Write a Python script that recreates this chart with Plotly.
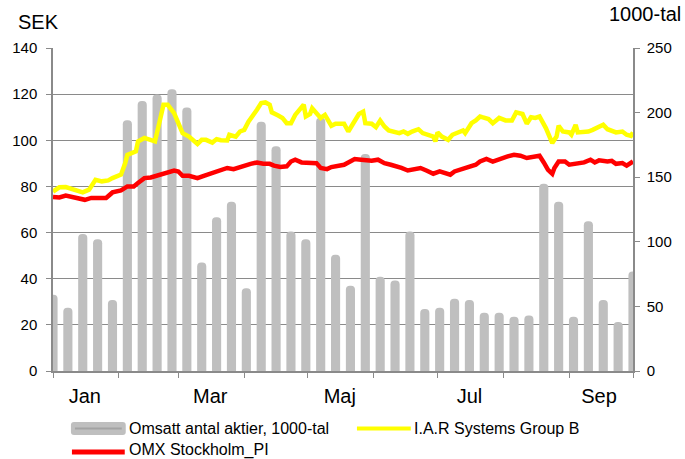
import plotly.graph_objects as go
import pandas as pd

# ---------------- data ----------------
base = pd.Timestamp("2010-01-01")

# weekly turnover (1000-tal), one bar per week starting Jan 1
volume = [59, 49, 106, 102, 55, 194, 209, 214, 218, 204,
          84, 119, 131, 64, 193, 174, 108, 102, 196, 90,
          66, 168, 73, 70, 108, 48, 49, 56, 55, 45,
          45, 42, 43, 145, 131, 42, 116, 55, 38, 77]
volume_week_no = list(range(len(volume)))

# I.A.R Systems Group B (SEK), day offsets from Jan 1
iar_day = [0, 3, 6, 9, 12, 14, 17, 20, 23, 26, 28, 32, 34, 35, 39, 40, 43, 46, 48, 50,
           52, 54, 57, 59, 61, 64, 66, 68, 70, 72, 75, 77, 79, 82, 83, 86, 88, 90, 92, 94,
           96, 98, 100, 102, 103, 106, 108, 110, 112, 114, 116, 118, 119, 121, 122, 124, 126, 128, 129, 131,
           133, 137, 139, 142, 144, 146, 147, 150, 152, 154, 156, 158, 161, 163, 165, 167, 169, 172, 174, 176,
           179, 180, 181, 183, 186, 188, 190, 193, 194, 197, 199, 201, 202, 205, 207, 210, 213, 216, 218, 221,
           223, 225, 227, 229, 232, 234, 235, 237, 238, 240, 243, 244, 246, 247, 250, 252, 254, 257, 259, 261,
           263, 265, 268, 270, 272, 273]
iar = [77.8, 79.6, 79.7, 78.9, 78.1, 77.4, 78.6, 82.9, 82.2, 82.6, 83.6, 85.1, 90.1, 93.7, 95.2, 99.5, 101.0, 100.2, 99.5, 107.4,
       115.4, 115.4, 111.8, 107.4, 103.1, 101.6, 100.2, 98.4, 100.2, 100.2, 99.0, 100.5, 100.0, 99.9, 102.4, 101.6, 103.8, 104.5, 108.1, 110.3,
       113.2, 116.1, 116.4, 115.4, 112.1, 110.7, 109.7, 107.4, 107.4, 111.0, 113.2, 115.4, 110.3, 111.4, 113.9, 112.1, 109.7, 111.0, 109.7, 106.3,
       107.2, 107.2, 103.8, 108.1, 111.4, 112.4, 107.4, 107.2, 105.7, 108.6, 106.0, 104.3, 103.4, 103.1, 103.8, 102.8, 103.8, 104.8, 103.1, 102.4,
       101.6, 99.5, 103.4, 101.6, 100.2, 102.4, 103.1, 104.3, 103.1, 107.4, 108.6, 110.3, 110.0, 109.2, 107.4, 109.7, 108.6, 108.6, 112.1, 111.4,
       107.2, 110.0, 109.7, 110.3, 105.3, 101.0, 98.8, 101.6, 106.3, 103.8, 103.4, 102.4, 106.7, 103.4, 103.4, 103.8, 104.5, 106.0, 106.7, 104.8,
       104.3, 103.4, 103.8, 102.4, 101.9, 103.4]

# OMX Stockholm_PI (rebased), day offsets from Jan 1
omx_day = [0, 3, 6, 9, 12, 15, 18, 22, 25, 28, 32, 35, 38, 40, 43, 46, 49, 52, 54, 57,
           59, 61, 64, 68, 71, 74, 77, 80, 82, 85, 87, 90, 93, 96, 99, 102, 104, 107, 110, 112,
           114, 117, 119, 121, 124, 126, 129, 131, 134, 137, 139, 142, 145, 148, 150, 153, 156, 159, 161, 164,
           167, 170, 173, 176, 179, 182, 184, 187, 189, 192, 194, 197, 199, 201, 204, 207, 211, 214, 217, 220,
           223, 226, 229, 231, 233, 235, 236, 238, 241, 243, 247, 250, 253, 255, 257, 261, 263, 265, 268, 270,
           273]
omx = [75.4, 75.2, 76.0, 75.4, 74.5, 74.2, 75.0, 75.0, 75.0, 77.4, 78.3, 80.0, 80.0, 81.5, 83.6, 83.9, 84.6, 85.5, 86.1, 86.9,
       86.5, 84.6, 84.6, 83.6, 84.6, 85.5, 86.1, 86.9, 88.0, 87.5, 88.2, 89.0, 89.8, 90.4, 89.8, 89.8, 89.0, 88.4, 88.7, 90.8,
       91.6, 90.4, 90.4, 90.1, 90.1, 88.0, 87.5, 88.4, 89.0, 89.4, 90.4, 91.9, 91.6, 91.3, 91.1, 91.6, 90.1, 89.4, 89.0, 88.0,
       86.9, 87.5, 88.0, 86.8, 85.5, 86.5, 86.1, 85.1, 86.5, 87.5, 88.0, 89.0, 89.4, 90.8, 91.9, 90.8, 92.3, 93.0, 93.7, 93.3,
       92.3, 92.7, 93.3, 90.4, 87.2, 85.5, 88.0, 90.8, 90.8, 89.4, 89.8, 90.4, 91.6, 90.4, 91.3, 90.8, 91.1, 89.8, 90.1, 89.0,
       90.8]

month_labels = ["Jan", "Mar", "Maj", "Jul", "Sep"]
month_label_dates = ["2010-01-16", "2010-03-16", "2010-05-16", "2010-07-16", "2010-09-15"]
month_starts = pd.date_range("2010-01-01", "2010-10-01", freq="MS")
left_ticks = list(range(0, 141, 20))
right_ticks = list(range(0, 251, 50))

leg_bar = "Omsatt antal aktier, 1000-tal"
leg_iar = "I.A.R Systems Group B"
leg_omx = "OMX Stockholm_PI"

# ---------------- build ----------------
week_dates = [base + pd.Timedelta(days=7 * w) for w in volume_week_no]
iar_dates = [base + pd.Timedelta(days=d) for d in iar_day]
omx_dates = [base + pd.Timedelta(days=d) for d in omx_day]
end_date = base + pd.Timedelta(days=273)

GRID = "#8a8a8a"
BAR = "#bfbfbf"
FONT = "Liberation Sans, Arial, sans-serif"

W, H = 685, 459
L, R, T, B = 51, 52, 48, 88
PW, PH = W - L - R, H - T - B

def px(x):
    return (x - L) / PW

def py(y):
    return (H - B - y) / PH

fig = go.Figure()
fig.add_trace(go.Bar(x=week_dates, y=volume, yaxis="y", name=leg_bar,
                     marker=dict(color=BAR, line=dict(width=0), cornerradius=4),
                     width=4.3 * 86400000))
fig.add_trace(go.Scatter(x=iar_dates, y=iar, yaxis="y2", mode="lines", name=leg_iar,
                         line=dict(color="#ffff00", width=4.5)))
fig.add_trace(go.Scatter(x=omx_dates, y=omx, yaxis="y2", mode="lines", name=leg_omx,
                         line=dict(color="#ff0000", width=4.5)))

fig.update_layout(
    width=W, height=H,
    margin=dict(l=L, r=R, t=T, b=B, pad=0),
    paper_bgcolor="white", plot_bgcolor="white",
    showlegend=False,
    font=dict(family=FONT, color="black"),
    xaxis=dict(type="date", range=[base, end_date],
               tickmode="array", tickvals=month_label_dates, ticktext=month_labels,
               ticks="", tickfont=dict(size=20), ticklabelstandoff=6,
               showline=True, linecolor=GRID, linewidth=1.5, showgrid=False, zeroline=False,
               minor=dict(tickmode="array", tickvals=list(month_starts), ticks="outside",
                          ticklen=5, tickwidth=1, tickcolor=GRID, showgrid=False)),
    yaxis=dict(range=[0, 250], tickmode="array", tickvals=right_ticks, side="right",
               ticks="outside", ticklen=5, tickcolor=GRID, showline=True, linecolor=GRID,
               linewidth=1.5, showgrid=False, zeroline=False, tickfont=dict(size=15),
               ticklabelstandoff=4),
    yaxis2=dict(range=[0, 140], tickmode="array", tickvals=left_ticks, side="left",
                overlaying="y", ticks="outside", ticklen=5, tickcolor=GRID, showline=True,
                linecolor=GRID, linewidth=1.5, showgrid=True, gridcolor=GRID, gridwidth=1.3,
                zeroline=False, tickfont=dict(size=15), ticklabelstandoff=6),
)

# axis titles
fig.add_annotation(text="SEK", xref="paper", yref="paper", x=px(14), y=py(22),
                   xanchor="left", yanchor="middle", showarrow=False, font=dict(size=20))
fig.add_annotation(text="1000-tal", xref="paper", yref="paper", x=px(683), y=py(14),
                   xanchor="right", yanchor="middle", showarrow=False, font=dict(size=20))

# legend (drawn manually to mimic the original swatches)
def rounded_rect(x0, y0, x1, y1, r):
    X0, X1 = px(x0), px(x1)
    Y0, Y1 = py(y0), py(y1)
    rx, ry = r / PW, r / PH
    return (f"M {X0+rx},{Y0} L {X1-rx},{Y0} Q {X1},{Y0} {X1},{Y0-ry} "
            f"L {X1},{Y1+ry} Q {X1},{Y1} {X1-rx},{Y1} L {X0+rx},{Y1} "
            f"Q {X0},{Y1} {X0},{Y1+ry} L {X0},{Y0-ry} Q {X0},{Y0} {X0+rx},{Y0} Z")

fig.add_shape(type="path", xref="paper", yref="paper", path=rounded_rect(69, 422, 124, 435, 3),
              fillcolor=BAR, line=dict(width=0))
fig.add_shape(type="line", xref="paper", yref="paper", x0=px(73), x1=px(120), y0=py(428.5), y1=py(428.5),
              line=dict(color="#a3a3a3", width=2))
fig.add_shape(type="line", xref="paper", yref="paper", x0=px(356), x1=px(410), y0=py(428.5), y1=py(428.5),
              line=dict(color="#ffff00", width=4))
fig.add_shape(type="line", xref="paper", yref="paper", x0=px(70), x1=px(123), y0=py(452), y1=py(452),
              line=dict(color="#ff0000", width=5))

for txt, x, y in [(leg_bar, 125, 428.5), (leg_iar, 411, 428.5), (leg_omx, 125, 450)]:
    fig.add_annotation(text=txt, xref="paper", yref="paper", x=px(x), y=py(y),
                       xanchor="left", yanchor="middle", showarrow=False, font=dict(size=16))

fig.write_html("out.html", config={"displayModeBar": False},
               post_script="document.body.style.margin='0';document.body.style.padding='0';")
